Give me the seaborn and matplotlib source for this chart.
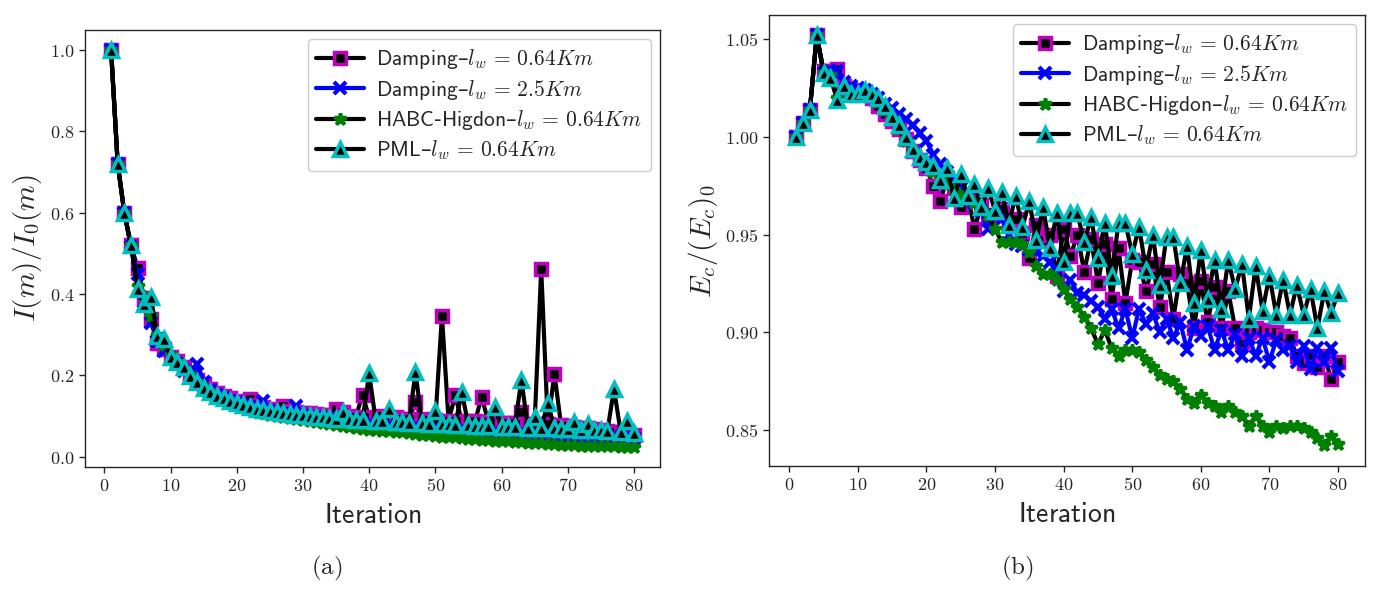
import matplotlib
matplotlib.use("Agg")
import matplotlib.pyplot as plt
import seaborn as sns
import pandas as pd
from matplotlib.ticker import FuncFormatter

# ---- data ----
iterations = list(range(1, 81))

# (a) normalised objective I(m)/I0(m)
obj_damp064 = [1.000, 0.720, 0.600, 0.520, 0.465, 0.390, 0.340, 0.280, 0.265, 0.245,
               0.235, 0.220, 0.205, 0.190, 0.178, 0.168, 0.158, 0.150, 0.145, 0.138,
               0.133, 0.142, 0.128, 0.122, 0.118, 0.115, 0.126, 0.112, 0.110, 0.108,
               0.107, 0.105, 0.104, 0.102, 0.118, 0.110, 0.100, 0.099, 0.153, 0.097,
               0.096, 0.101, 0.095, 0.098, 0.094, 0.093, 0.134, 0.092, 0.091, 0.090,
               0.347, 0.089, 0.151, 0.088, 0.087, 0.087, 0.148, 0.086, 0.085, 0.084,
               0.083, 0.083, 0.110, 0.082, 0.081, 0.462, 0.080, 0.204, 0.078, 0.076,
               0.074, 0.072, 0.070, 0.068, 0.066, 0.064, 0.062, 0.060, 0.057, 0.053]
obj_damp25 = [1.000, 0.720, 0.600, 0.515, 0.450, 0.380, 0.330, 0.285, 0.260, 0.240,
              0.228, 0.212, 0.198, 0.228, 0.185, 0.165, 0.152, 0.145, 0.138, 0.132,
              0.127, 0.122, 0.118, 0.138, 0.112, 0.109, 0.106, 0.104, 0.126, 0.100,
              0.098, 0.096, 0.094, 0.092, 0.090, 0.088, 0.086, 0.084, 0.082, 0.078,
              0.077, 0.076, 0.075, 0.074, 0.073, 0.072, 0.071, 0.070, 0.069, 0.068,
              0.067, 0.066, 0.065, 0.064, 0.064, 0.063, 0.062, 0.061, 0.060, 0.059,
              0.059, 0.058, 0.057, 0.056, 0.056, 0.055, 0.054, 0.054, 0.053, 0.052,
              0.052, 0.051, 0.051, 0.050, 0.050, 0.049, 0.049, 0.048, 0.048, 0.047]
obj_habc = [1.000, 0.720, 0.600, 0.520, 0.420, 0.395, 0.345, 0.300, 0.275, 0.250,
            0.232, 0.215, 0.200, 0.185, 0.172, 0.160, 0.150, 0.142, 0.135, 0.128,
            0.122, 0.117, 0.112, 0.108, 0.104, 0.101, 0.098, 0.095, 0.093, 0.090,
            0.088, 0.085, 0.083, 0.081, 0.079, 0.076, 0.073, 0.070, 0.068, 0.066,
            0.065, 0.064, 0.063, 0.062, 0.060, 0.058, 0.057, 0.055, 0.053, 0.052,
            0.050, 0.049, 0.048, 0.047, 0.045, 0.043, 0.042, 0.041, 0.040, 0.039,
            0.038, 0.037, 0.036, 0.035, 0.034, 0.033, 0.032, 0.031, 0.030, 0.030,
            0.029, 0.028, 0.028, 0.027, 0.027, 0.026, 0.026, 0.025, 0.025, 0.024]
obj_pml = [1.000, 0.720, 0.600, 0.520, 0.413, 0.375, 0.392, 0.298, 0.290, 0.245,
           0.232, 0.220, 0.198, 0.185, 0.170, 0.160, 0.150, 0.144, 0.138, 0.132,
           0.127, 0.122, 0.118, 0.115, 0.112, 0.110, 0.108, 0.106, 0.104, 0.102,
           0.100, 0.098, 0.097, 0.096, 0.094, 0.110, 0.092, 0.091, 0.090, 0.205,
           0.088, 0.087, 0.118, 0.086, 0.085, 0.084, 0.208, 0.083, 0.082, 0.114,
           0.081, 0.080, 0.079, 0.159, 0.078, 0.077, 0.076, 0.075, 0.122, 0.074,
           0.074, 0.073, 0.189, 0.072, 0.097, 0.071, 0.133, 0.070, 0.069, 0.068,
           0.085, 0.067, 0.081, 0.066, 0.065, 0.064, 0.167, 0.062, 0.087, 0.058]

# (b) normalised energy Ec/(Ec)0
en_damp064 = [1.000, 1.007, 1.014, 1.052, 1.034, 1.034, 1.035, 1.026, 1.024, 1.023,
              1.022, 1.020, 1.016, 1.012, 1.008, 1.004, 0.999, 0.993, 0.988, 0.984,
              0.975, 0.967, 0.979, 0.974, 0.964, 0.970, 0.953, 0.965, 0.958, 0.960,
              0.963, 0.956, 0.958, 0.951, 0.938, 0.955, 0.947, 0.950, 0.929, 0.953,
              0.939, 0.950, 0.931, 0.948, 0.925, 0.945, 0.917, 0.943, 0.915, 0.937,
              0.936, 0.921, 0.935, 0.913, 0.931, 0.907, 0.930, 0.925, 0.902, 0.926,
              0.905, 0.923, 0.902, 0.921, 0.902, 0.895, 0.900, 0.902, 0.901, 0.900,
              0.900, 0.898, 0.897, 0.888, 0.884, 0.888, 0.882, 0.888, 0.876, 0.885]
en_damp25 = [1.000, 1.007, 1.014, 1.052, 1.033, 1.034, 1.034, 1.028, 1.026, 1.025,
             1.024, 1.022, 1.020, 1.017, 1.015, 1.012, 1.009, 1.006, 1.002, 0.998,
             0.991, 0.986, 0.982, 0.978, 0.974, 0.970, 0.966, 0.962, 0.953, 0.960,
             0.958, 0.950, 0.945, 0.944, 0.942, 0.941, 0.939, 0.936, 0.930, 0.921,
             0.927, 0.920, 0.919, 0.916, 0.913, 0.907, 0.912, 0.902, 0.912, 0.897,
             0.912, 0.904, 0.910, 0.900, 0.907, 0.897, 0.905, 0.891, 0.903, 0.898,
             0.903, 0.891, 0.901, 0.891, 0.899, 0.888, 0.897, 0.888, 0.897, 0.885,
             0.896, 0.891, 0.893, 0.885, 0.893, 0.881, 0.892, 0.885, 0.892, 0.880]
en_habc = [1.000, 1.007, 1.014, 1.052, 1.033, 1.032, 1.020, 1.025, 1.022, 1.022,
           1.023, 1.021, 1.018, 1.014, 1.009, 1.004, 0.998, 0.993, 0.989, 0.986,
           0.982, 0.979, 0.976, 0.973, 0.970, 0.968, 0.966, 0.963, 0.960, 0.953,
           0.946, 0.946, 0.946, 0.945, 0.941, 0.934, 0.930, 0.930, 0.927, 0.922,
           0.917, 0.913, 0.908, 0.902, 0.894, 0.901, 0.892, 0.888, 0.891, 0.891,
           0.890, 0.886, 0.882, 0.878, 0.876, 0.875, 0.871, 0.866, 0.864, 0.868,
           0.864, 0.862, 0.859, 0.862, 0.859, 0.857, 0.852, 0.857, 0.852, 0.849,
           0.852, 0.851, 0.852, 0.852, 0.851, 0.849, 0.846, 0.842, 0.847, 0.843]
en_pml = [1.000, 1.007, 1.014, 1.052, 1.033, 1.030, 1.019, 1.026, 1.022, 1.022,
          1.024, 1.022, 1.020, 1.016, 1.010, 1.006, 1.000, 0.994, 0.990, 0.987,
          0.985, 0.978, 0.984, 0.969, 0.981, 0.970, 0.976, 0.964, 0.974, 0.962,
          0.972, 0.955, 0.970, 0.954, 0.967, 0.947, 0.964, 0.943, 0.961, 0.936,
          0.961, 0.961, 0.946, 0.959, 0.938, 0.956, 0.929, 0.956, 0.956, 0.940,
          0.954, 0.932, 0.950, 0.924, 0.949, 0.949, 0.925, 0.944, 0.915, 0.942,
          0.917, 0.937, 0.912, 0.937, 0.922, 0.935, 0.907, 0.934, 0.911, 0.929,
          0.909, 0.927, 0.909, 0.924, 0.909, 0.922, 0.902, 0.921, 0.910, 0.920]

series_labels = [r"$\mathsf{Damping}$–$l_w\,=\,0.64Km$",
                 r"$\mathsf{Damping}$–$l_w\,=\,2.5Km$",
                 r"$\mathsf{HABC}$-$\mathsf{Higdon}$–$l_w\,=\,0.64Km$",
                 r"$\mathsf{PML}$–$l_w\,=\,0.64Km$"]

# ---- style ----
sns.set_style("ticks")
plt.rcParams["mathtext.fontset"] = "cm"
plt.rcParams["font.family"] = ["DejaVu Sans"]
plt.rcParams["axes.linewidth"] = 1.0

styles = [
    dict(color="black", marker="s", mfc="black", mec="m", mew=2.5, ms=9, lw=3),
    dict(color="blue", marker="x", mfc="blue", mec="blue", mew=3, ms=9, lw=3),
    dict(color="black", marker="*", mfc="green", mec="green", mew=2.5, ms=9, lw=3),
    dict(color="black", marker="^", mfc="black", mec="c", mew=2.5, ms=10, lw=3),
]

fig = plt.figure(figsize=(13.79, 5.94), dpi=100)
ax1 = fig.add_axes([0.0616, 0.2138, 0.417, 0.7357])
ax2 = fig.add_axes([0.5577, 0.2155, 0.4322, 0.7593])

def draw(ax, series, ylabel):
    for vals, lab, st in zip(series, series_labels, styles):
        df = pd.DataFrame({"Iteration": iterations, "value": vals})
        sns.lineplot(data=df, x="Iteration", y="value", ax=ax, label=lab,
                     estimator=None, sort=False, **st)
    ax.set_xlabel(r"$\mathsf{Iteration}$", fontsize=20)
    ax.set_ylabel(ylabel, fontsize=21)
    ax.set_xticks([0, 10, 20, 30, 40, 50, 60, 70, 80])
    ax.tick_params(labelsize=13, length=4, width=1)
    ax.legend(loc="upper right", fontsize=15.5, handlelength=2.2,
              borderaxespad=0.4, labelspacing=0.3, handletextpad=0.6,
              framealpha=1)

draw(ax1, [obj_damp064, obj_damp25, obj_habc, obj_pml], r"$I(m)/I_0(m)$")
draw(ax2, [en_damp064, en_damp25, en_habc, en_pml], r"$E_c/(E_c)_0$")

ax1.set_yticks([0.0, 0.2, 0.4, 0.6, 0.8, 1.0])
ax1.yaxis.set_major_formatter(FuncFormatter(lambda v, p: f"${v:.1f}$"))
ax2.set_yticks([0.85, 0.90, 0.95, 1.00, 1.05])
ax2.yaxis.set_major_formatter(FuncFormatter(lambda v, p: f"${v:.2f}$"))
for ax in (ax1, ax2):
    ax.xaxis.set_major_formatter(FuncFormatter(lambda v, p: f"${v:.0f}$"))

fig.text(327 / 1379, 1 - 568 / 594, r"$\mathrm{(a)}$", ha="center", va="center", fontsize=18)
fig.text(1017 / 1379, 1 - 568 / 594, r"$\mathrm{(b)}$", ha="center", va="center", fontsize=18)

fig.savefig("out.png", dpi=100)
